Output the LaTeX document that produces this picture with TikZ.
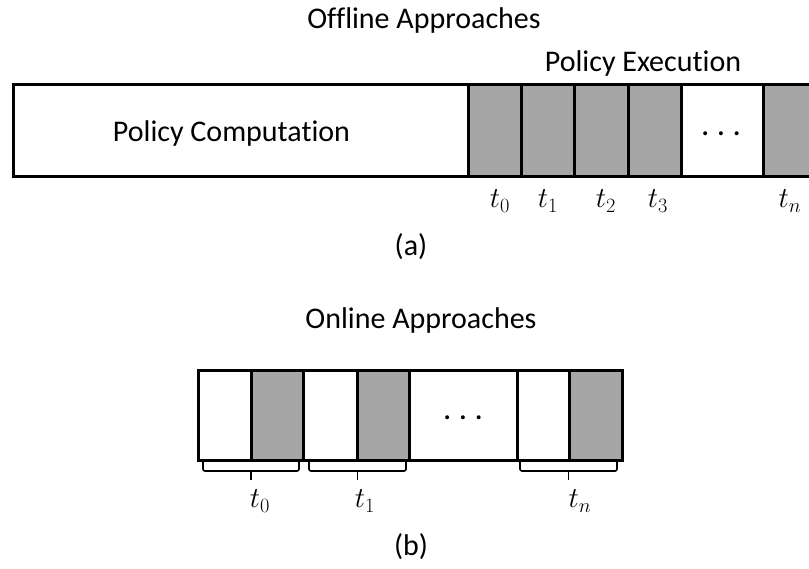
\RequirePackage{fix-cm}
\documentclass[tikz,border=0pt]{standalone}
\usepackage{fontspec}
\setmainfont{Carlito}[Ligatures={NoCommon}]
\definecolor{cellgray}{RGB}{166,166,166}
\tikzset{
  box/.style={draw=black, line width=3pt, fill=white, inner sep=0pt, outer sep=0pt},
  graycell/.style={box, fill=cellgray},
  lbl/.style={font=\fontsize{30}{36}\selectfont, inner sep=0pt, anchor=base},
  tlbl/.style={font=\fontsize{29}{34}\selectfont, inner sep=0pt},
  dotsl/.style={font=\fontsize{33}{36}\selectfont, inner sep=0pt},
  bracel/.style={draw=black, line width=1.6pt, rounded corners=2pt},
}
\begin{document}
\begin{tikzpicture}[x=1pt,y=-1pt]
\useasboundingbox (0,0) rectangle (809,568);
% ---------- (a) offline ----------
\node[lbl] (offt) at (424,28) {Offline Approaches};
\node[lbl] (pet) at (643,71) {Policy Execution};
\node[box, minimum width=802pt, minimum height=92pt] (outer) at (414,130) {};
\node[lbl] (pct) at (231.5,141) {Policy Computation};
\node[graycell, minimum width=53pt, minimum height=92pt] (c0) at (494.5,130) {};
\node[graycell, minimum width=53pt, minimum height=92pt] (c1) at (547.5,130) {};
\node[graycell, minimum width=54pt, minimum height=92pt] (c2) at (601,130) {};
\node[graycell, minimum width=53pt, minimum height=92pt] (c3) at (654.5,130) {};
\node[graycell, minimum width=52pt, minimum height=92pt] (cn) at (789,130) {};
\node[dotsl] (dt) at (721,134) {.\ .\ .};
\node[tlbl] (t0a) at (500,201) {$t_0$};
\node[tlbl] (t1a) at (548,201) {$t_1$};
\node[tlbl] (t2a) at (606,201) {$t_2$};
\node[tlbl] (t3a) at (658,201) {$t_3$};
\node[tlbl] (tna) at (790,201) {$t_n$};
\node[lbl] (a) at (411,255) {(a)};
% ---------- (b) online ----------
\node[lbl] (ont) at (421,328) {Online Approaches};
\node[box, minimum width=424pt, minimum height=90pt] (outerb) at (410,415) {};
\node[box, minimum width=53pt, minimum height=90pt] (w0) at (224.5,415) {};
\node[graycell, minimum width=52pt, minimum height=90pt] (g0) at (277,415) {};
\node[box, minimum width=54pt, minimum height=90pt] (w1) at (330,415) {};
\node[graycell, minimum width=52pt, minimum height=90pt] (g1) at (383,415) {};
\node[box, minimum width=52pt, minimum height=90pt] (w2) at (543,415) {};
\node[graycell, minimum width=53pt, minimum height=90pt] (g2) at (595.5,415) {};
\node[dotsl] (db) at (463,418) {.\ .\ .};
% braces
\draw[bracel] (203,462) -- (203,471) -- (299,471) -- (299,462);
\draw[bracel] (251,471) -- (251,480);
\draw[bracel] (309,462) -- (309,471) -- (406,471) -- (406,462);
\draw[bracel] (357.5,471) -- (357.5,480);
\draw[bracel] (520,462) -- (520,471) -- (617,471) -- (617,462);
\draw[bracel] (568.5,471) -- (568.5,480);
\node[tlbl] (t0b) at (260,501) {$t_0$};
\node[tlbl] (t1b) at (365,501) {$t_1$};
\node[tlbl] (tnb) at (580,501) {$t_n$};
\node[lbl] (b) at (411,555) {(b)};
\end{tikzpicture}
\end{document}
